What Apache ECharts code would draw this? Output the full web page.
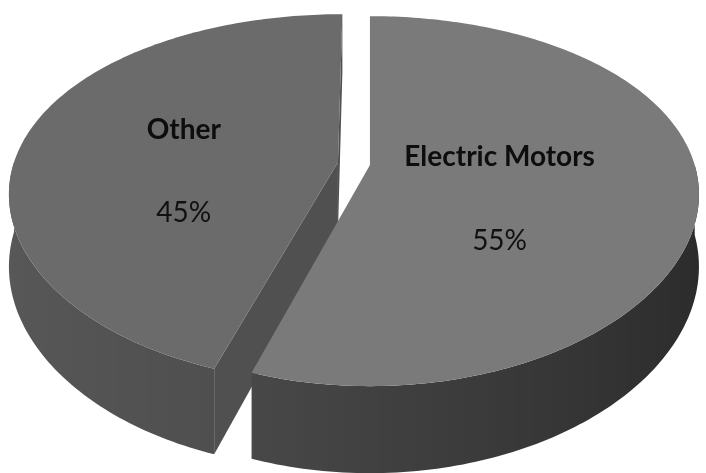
<!DOCTYPE html>
<html>
<head>
<meta charset="utf-8">
<script src="https://cdn.jsdelivr.net/npm/echarts@6/dist/echarts.min.js"></script>
<style>
  html, body { margin: 0; padding: 0; background: #ffffff; }
  #chart { width: 706px; height: 473px; }
</style>
</head>
<body>
<div id="chart"></div>
<script>
// Slice data, drawn clockwise from 12 o'clock
const categories = ['Electric Motors', 'Other'];
const shares = [55, 45];
const percentLabels = ['55%', '45%'];

// Appearance of each slice: top colour, wall luminance (facing left, facing right),
// colour of the cut face and how far the slice is pulled out of the pie
const sliceStyles = [
  { top: '#7a7a7a', wall: [87, 43], cut: '#3c3c3c', explode: 0 },
  { top: '#6b6b6b', wall: [88, 62], cut: '#505050', explode: 0.1 }
];

const total = shares.reduce((a, b) => a + b, 0);
const DEG = Math.PI / 180;

function sliceAngles(i) {
  let a = -90;
  for (let j = 0; j < i; j++) a += 360 * shares[j] / total;
  return [a, a + 360 * shares[i] / total];
}

function grey(l) {
  const v = Math.max(0, Math.min(255, Math.round(l)));
  return 'rgb(' + v + ',' + v + ',' + v + ')';
}

function renderSlice(params, api) {
  const W = api.getWidth(), H = api.getHeight();
  // simple perspective view of a tilted disc
  const cx = W * 0.524, cy = H * 0.349;
  const s = W * 0.46, sk = s * 0.548, depth = H * 0.148;
  const px = 0.16, py = 0.195;
  const proj = (u, v, h) => [cx + s * u / (1 - px * v), cy + (sk * v + depth * h) / (1 - py * v)];

  const i = params.dataIndex;
  const st = sliceStyles[i];
  const [a1, a2] = sliceAngles(i);
  const midDeg = (a1 + a2) / 2;
  const mid = midDeg * DEG;
  const du = st.explode * Math.cos(mid), dv = st.explode * Math.sin(mid);
  const pt = (angDeg, r, h) => proj(du + r * Math.cos(angDeg * DEG), dv + r * Math.sin(angDeg * DEG), h);
  const arc = (from, to, h) => {
    const n = Math.max(2, Math.ceil(Math.abs(to - from)));
    const out = [];
    for (let k = 0; k <= n; k++) out.push(pt(from + (to - from) * k / n, 1, h));
    return out;
  };

  const zBase = 10 + Math.round((Math.sin(mid) + 1) * 20);
  const children = [];

  // cut faces along the two radii, only those turned toward the viewer
  [[a1, -1], [a2, 1]].forEach(([ang, sign]) => {
    const at = pt(0, 0, 0), rt = pt(ang, 1, 0), rb = pt(ang, 1, 1), ab = pt(0, 0, 1);
    const cross = (rt[0] - at[0]) * (ab[1] - at[1]) - (rt[1] - at[1]) * (ab[0] - at[0]);
    if (cross * sign > 0.5) {
      children.push({ type: 'polygon', z2: zBase, shape: { points: [at, rt, rb, ab] },
        style: { fill: st.cut } });
    }
  });

  // outer wall on the front half of the disc
  for (let k = -1; k <= 1; k++) {
    const lo = Math.max(a1, 360 * k), hi = Math.min(a2, 180 + 360 * k);
    if (hi - lo <= 0.01) continue;
    const topArc = arc(lo, hi, 0);
    const botArc = arc(hi, lo, 1);
    const pts = topArc.concat(botArc);
    const xs = pts.map(p => p[0]);
    const minX = Math.min.apply(null, xs), maxX = Math.max.apply(null, xs);
    const stops = [];
    const n = Math.max(2, Math.ceil(hi - lo));
    for (let m = 0; m <= n; m++) {
      const ang = lo + (hi - lo) * m / n;
      const p = pt(ang, 1, 0);
      const nx = Math.cos(ang * DEG);
      const l = st.wall[0] + (st.wall[1] - st.wall[0]) * (nx + 1) / 2;
      stops.push({ offset: (p[0] - minX) / Math.max(1, maxX - minX), color: grey(l) });
    }
    stops.sort((a, b) => a.offset - b.offset);
    children.push({ type: 'polygon', z2: zBase + 1, shape: { points: pts },
      style: { fill: new echarts.graphic.LinearGradient(0, 0, 1, 0, stops) } });
  }

  // top face
  children.push({ type: 'polygon', z2: zBase + 3,
    shape: { points: [pt(0, 0, 0)].concat(arc(a1, a2, 0)) },
    style: { fill: st.top } });

  // labels placed a little beyond the centroid of the top face
  const alpha = (a2 - a1) / 2 * DEG;
  const rc = 1.05 * (2 / 3) * Math.sin(alpha) / alpha;
  const anchor = pt(midDeg, rc, 0);
  children.push({ type: 'text', z2: 200,
    style: { text: categories[i], x: anchor[0], y: anchor[1] - H * 0.040,
      fill: '#0d0d0d', font: 'bold 28px Lato',
      align: 'center', verticalAlign: 'middle', textAlign: 'center', textVerticalAlign: 'middle' } });
  children.push({ type: 'text', z2: 200,
    style: { text: percentLabels[i], x: anchor[0], y: anchor[1] + H * 0.136,
      fill: '#111111', font: '28px Lato',
      align: 'center', verticalAlign: 'middle', textAlign: 'center', textVerticalAlign: 'middle' } });

  return { type: 'group', children };
}

const chart = echarts.init(document.getElementById('chart'), null, { renderer: 'canvas' });
chart.setOption({
  backgroundColor: '#ffffff',
  animation: false,
  series: [{
    type: 'custom',
    coordinateSystem: 'none',
    silent: true,
    renderItem: renderSlice,
    data: shares.map((v, i) => ({ value: v, name: categories[i] }))
  }]
});
</script>
</body>
</html>
